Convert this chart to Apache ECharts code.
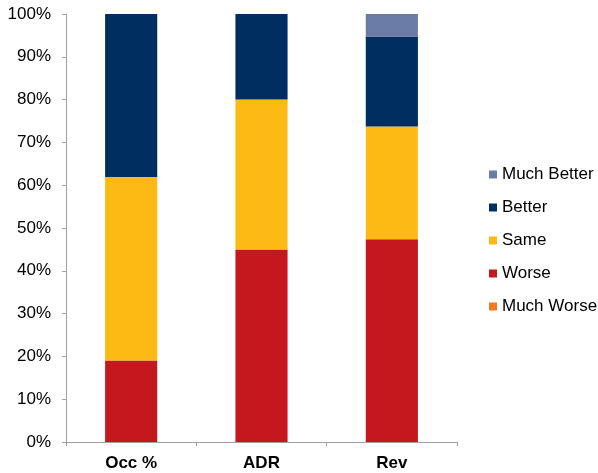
<!DOCTYPE html>
<html>
<head>
<meta charset="utf-8">
<script src="https://cdn.jsdelivr.net/npm/echarts@6/dist/echarts.min.js"></script>
<style>
html,body{margin:0;padding:0;background:#fff;}
#chart{width:598px;height:473px;}
</style>
</head>
<body>
<div id="chart"></div>
<script>
var categories = ["Occ %", "ADR", "Rev"];
var muchWorse = [0, 0, 0];
var worse = [19.05, 45, 47.37];
var same = [42.86, 35, 26.32];
var better = [38.10, 20, 21.05];
var muchBetter = [0, 0, 5.26];
var yTicks = [0, 10, 20, 30, 40, 50, 60, 70, 80, 90, 100];

var seriesNames = ["Much Worse", "Worse", "Same", "Better", "Much Better"];
var seriesData = [muchWorse, worse, same, better, muchBetter];
var colors = ["#EC7B22", "#C5171E", "#FDB914", "#002E60", "#6A7CA5"];

var font = "'Liberation Sans', Arial, sans-serif";
var chart = echarts.init(document.getElementById('chart'), null, {renderer: 'canvas'});
var series = seriesNames.map(function (n, i) {
  return {
    name: n,
    type: 'bar',
    stack: 'total',
    barWidth: '40%',
    data: seriesData[i],
    itemStyle: {color: colors[i]},
    animation: false
  };
});
chart.setOption({
  animation: false,
  grid: {left: 66, top: 14, right: 141, bottom: 31, containLabel: false},
  legend: {
    orient: 'vertical',
    left: 489,
    top: 166,
    padding: 0,
    itemWidth: 8,
    itemHeight: 8,
    itemGap: 16,
    icon: 'rect',
    data: ["Much Better", "Better", "Same", "Worse", "Much Worse"],
    textStyle: {fontFamily: font, fontSize: 17, color: '#000'}
  },
  xAxis: {
    type: 'category',
    data: categories,
    axisLine: {lineStyle: {color: '#A0A0A0', width: 1}},
    axisTick: {show: true, length: 4, lineStyle: {color: '#A0A0A0'}},
    axisLabel: {fontFamily: font, fontSize: 17, fontWeight: 'bold', color: '#000', margin: 13}
  },
  yAxis: {
    type: 'value',
    min: yTicks[0],
    max: yTicks[yTicks.length - 1],
    interval: 10,
    splitLine: {show: false},
    axisLine: {show: true, lineStyle: {color: '#A0A0A0', width: 1}},
    axisTick: {show: true, length: 4, lineStyle: {color: '#A0A0A0'}},
    axisLabel: {fontFamily: font, fontSize: 17, color: '#000', margin: 15, formatter: '{value}%'}
  },
  series: series
});
</script>
</body>
</html>
